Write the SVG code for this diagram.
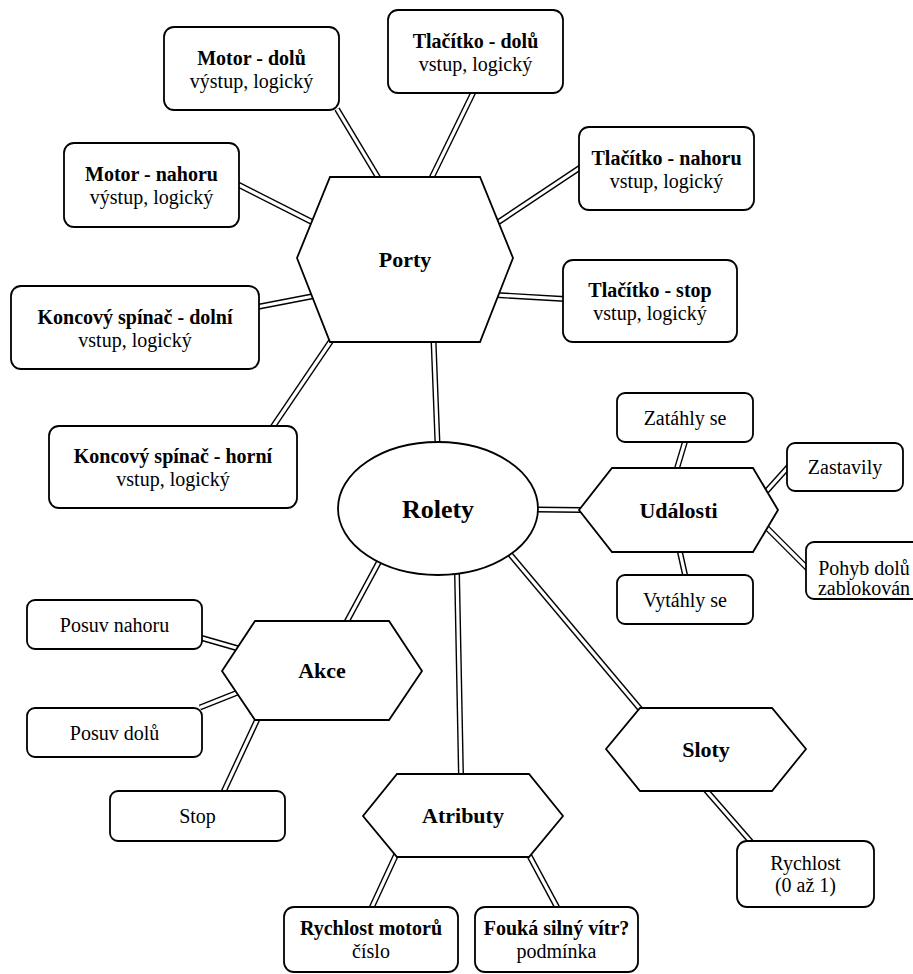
<svg xmlns="http://www.w3.org/2000/svg" width="913" height="974" viewBox="0 0 913 974">
<style>
.bg{fill:#fff}
.box,.hex,.ell{fill:#fff;stroke:#000;stroke-width:1.8}
.co{stroke:#000;stroke-width:6;fill:none}
.ci{stroke:#fff;stroke-width:3.2;fill:none}
text{font-family:"Liberation Serif","Times New Roman",serif;font-size:20px;fill:#000;text-anchor:middle}
.b{font-weight:bold}
.h{font-weight:bold;font-size:22px}
.r{font-weight:bold;font-size:26px}
</style>
<rect class="bg" x="0" y="0" width="913" height="974"/>
<g id="connectors">
<line class="co" x1="337" y1="109" x2="379" y2="179"/><line class="ci" x1="337" y1="109" x2="379" y2="179"/>
<line class="co" x1="474" y1="91" x2="431" y2="179"/><line class="ci" x1="474" y1="91" x2="431" y2="179"/>
<line class="co" x1="581" y1="167" x2="497" y2="223"/><line class="ci" x1="581" y1="167" x2="497" y2="223"/>
<line class="co" x1="565" y1="299" x2="496" y2="295"/><line class="ci" x1="565" y1="299" x2="496" y2="295"/>
<line class="co" x1="237" y1="184" x2="314" y2="223"/><line class="ci" x1="237" y1="184" x2="314" y2="223"/>
<line class="co" x1="257" y1="307" x2="314" y2="296"/><line class="ci" x1="257" y1="307" x2="314" y2="296"/>
<line class="co" x1="272" y1="428" x2="331" y2="341"/><line class="ci" x1="272" y1="428" x2="331" y2="341"/>
<line class="co" x1="433.5" y1="340" x2="437.5" y2="444"/><line class="ci" x1="433.5" y1="340" x2="437.5" y2="444"/>
<line class="co" x1="536" y1="509.5" x2="581" y2="510"/><line class="ci" x1="536" y1="509.5" x2="581" y2="510"/>
<line class="co" x1="380" y1="560" x2="346" y2="623"/><line class="ci" x1="380" y1="560" x2="346" y2="623"/>
<line class="co" x1="457" y1="573" x2="461" y2="776"/><line class="ci" x1="457" y1="573" x2="461" y2="776"/>
<line class="co" x1="509" y1="553" x2="641" y2="710"/><line class="ci" x1="509" y1="553" x2="641" y2="710"/>
<line class="co" x1="200" y1="637.5" x2="240" y2="649"/><line class="ci" x1="200" y1="637.5" x2="240" y2="649"/>
<line class="co" x1="200" y1="707.5" x2="239" y2="692"/><line class="ci" x1="200" y1="707.5" x2="239" y2="692"/>
<line class="co" x1="258" y1="718" x2="223" y2="793"/><line class="ci" x1="258" y1="718" x2="223" y2="793"/>
<line class="co" x1="685.5" y1="440" x2="676.5" y2="470"/><line class="ci" x1="685.5" y1="440" x2="676.5" y2="470"/>
<line class="co" x1="790" y1="465" x2="764" y2="494"/><line class="ci" x1="790" y1="465" x2="764" y2="494"/>
<line class="co" x1="765" y1="526" x2="808" y2="569"/><line class="ci" x1="765" y1="526" x2="808" y2="569"/>
<line class="co" x1="679.5" y1="550" x2="685.5" y2="577"/><line class="ci" x1="679.5" y1="550" x2="685.5" y2="577"/>
<line class="co" x1="705" y1="789" x2="752" y2="843"/><line class="ci" x1="705" y1="789" x2="752" y2="843"/>
<line class="co" x1="396" y1="855" x2="371" y2="909"/><line class="ci" x1="396" y1="855" x2="371" y2="909"/>
<line class="co" x1="529" y1="855" x2="558" y2="909"/><line class="ci" x1="529" y1="855" x2="558" y2="909"/>
</g>
<g id="porty">
<polygon class="hex" points="330,177 480,177 513,258 480,342 330,342 297,258"/>
<text class="h" x="405" y="267">Porty</text>
</g>
<g id="motor-dolu">
<rect class="box" x="164" y="27" width="175" height="83" rx="10"/>
<text class="b" x="251.5" y="65">Motor - dolů</text>
<text x="251.5" y="88">výstup, logický</text>
</g>
<g id="tlacitko-dolu">
<rect class="box" x="388" y="10" width="175" height="83" rx="10"/>
<text class="b" x="475.5" y="48">Tlačítko - dolů</text>
<text x="475.5" y="71">vstup, logický</text>
</g>
<g id="tlacitko-nahoru">
<rect class="box" x="579" y="127" width="175" height="83" rx="10"/>
<text class="b" x="666.5" y="165">Tlačítko - nahoru</text>
<text x="666.5" y="188">vstup, logický</text>
</g>
<g id="motor-nahoru">
<rect class="box" x="64" y="143" width="175" height="84" rx="10"/>
<text class="b" x="151.5" y="181">Motor - nahoru</text>
<text x="151.5" y="204">výstup, logický</text>
</g>
<g id="tlacitko-stop">
<rect class="box" x="563" y="260" width="174" height="82" rx="10"/>
<text class="b" x="650" y="297">Tlačítko - stop</text>
<text x="650" y="320">vstup, logický</text>
</g>
<g id="koncovy-dolni">
<rect class="box" x="11" y="286" width="248" height="83" rx="10"/>
<text class="b" x="135" y="324">Koncový spínač - dolní</text>
<text x="135" y="347">vstup, logický</text>
</g>
<g id="koncovy-horni">
<rect class="box" x="49" y="426" width="248" height="82" rx="10"/>
<text class="b" x="173" y="463">Koncový spínač - horní</text>
<text x="173" y="486">vstup, logický</text>
</g>
<g id="rolety">
<ellipse class="ell" cx="438" cy="508.5" rx="100" ry="66.5"/>
<text class="r" x="438" y="518">Rolety</text>
</g>
<g id="udalosti">
<polygon class="hex" points="612,468 753,468 778,510 753,552 612,552 579,510"/>
<text class="h" x="678.5" y="517.5">Události</text>
</g>
<g id="zatahly">
<rect class="box" x="617" y="393" width="136" height="49" rx="8"/>
<text x="685" y="425">Zatáhly se</text>
</g>
<g id="zastavily">
<rect class="box" x="787" y="443" width="116" height="48" rx="8"/>
<text x="845" y="474">Zastavily</text>
</g>
<g id="pohyb">
<rect class="box" x="806" y="542" width="116" height="57" rx="8"/>
<text x="864" y="575">Pohyb dolů</text>
<text x="864" y="595">zablokován</text>
</g>
<g id="vytahly">
<rect class="box" x="617" y="575" width="136" height="49" rx="8"/>
<text x="685" y="607">Vytáhly se</text>
</g>
<g id="akce">
<polygon class="hex" points="255,621 389,621 422,671 389,720 255,720 222,671"/>
<text class="h" x="322" y="678">Akce</text>
</g>
<g id="posuv-nahoru">
<rect class="box" x="27" y="600" width="175" height="49" rx="8"/>
<text x="114.5" y="632">Posuv nahoru</text>
</g>
<g id="posuv-dolu">
<rect class="box" x="27" y="708" width="175" height="49" rx="8"/>
<text x="114.5" y="740">Posuv dolů</text>
</g>
<g id="stop">
<rect class="box" x="110" y="791" width="175" height="50" rx="8"/>
<text x="197.5" y="823">Stop</text>
</g>
<g id="sloty">
<polygon class="hex" points="640,708 772,708 806,749 772,791 640,791 606,749"/>
<text class="h" x="706" y="757">Sloty</text>
</g>
<g id="rychlost">
<rect class="box" x="737" y="841" width="137" height="66" rx="10"/>
<text x="805.5" y="870">Rychlost</text>
<text x="805.5" y="892">(0 až 1)</text>
</g>
<g id="atributy">
<polygon class="hex" points="397,774 529,774 563,816 529,857 397,857 363,816"/>
<text class="h" x="463" y="823">Atributy</text>
</g>
<g id="rychlost-motoru">
<rect class="box" x="284" y="907" width="174" height="65" rx="10"/>
<text class="b" x="371" y="935">Rychlost motorů</text>
<text x="371" y="958">číslo</text>
</g>
<g id="fouka">
<rect class="box" x="475" y="907" width="163" height="65" rx="10"/>
<text class="b" x="556.5" y="935">Fouká silný vítr?</text>
<text x="556.5" y="958">podmínka</text>
</g>
</svg>
